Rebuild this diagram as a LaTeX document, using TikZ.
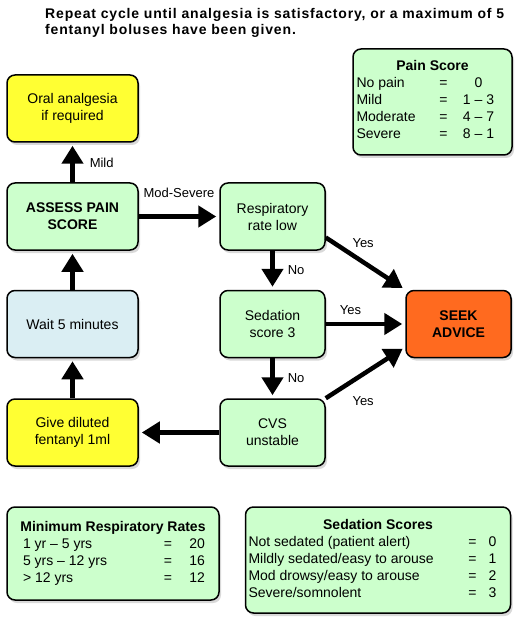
\documentclass[tikz,border=0pt]{standalone}
\usepackage{fontspec}
\setmainfont{Liberation Sans}
\usetikzlibrary{arrows.meta,positioning,calc,shadows}
\definecolor{mint}{HTML}{CCFFCC}
\definecolor{lemon}{HTML}{FFFF33}
\definecolor{sky}{HTML}{DAEEF3}
\definecolor{alarm}{HTML}{FF6A1F}
\newcommand{\entry}[4]{\makebox[#1][l]{#3}\makebox[10pt]{=}\makebox[#2]{#4}}
\tikzset{
  box/.style={draw=black,line width=1.5pt,rounded corners=8pt,fill=mint,align=center,inner sep=3pt,
    font=\fontsize{14}{17}\selectfont,drop shadow={shadow xshift=2pt,shadow yshift=-3pt,opacity=.3}},
  ybox/.style={box,fill=lemon},
  bbox/.style={box,fill=sky},
  obox/.style={box,fill=alarm,font=\fontsize{14}{17}\selectfont\bfseries},
  wide/.style={minimum width=131pt,minimum height=67pt},
  narrow/.style={minimum width=105pt,minimum height=67pt},
  ar/.style={-{Triangle[length=18pt,width=21pt]},line width=4.5pt,shorten >=3pt},
  lbl/.style={font=\fontsize{13}{15}\selectfont,inner sep=1pt},
}
\begin{document}
\begin{tikzpicture}[x=1pt,y=-1pt]
\useasboundingbox (0,0) rectangle (531,628);
\node[anchor=north west,align=left,inner sep=0pt,
  font=\fontsize{14}{16.5}\selectfont\bfseries\addfontfeature{LetterSpace=6}] (title) at (45,8)
  {Repeat cycle until analgesia is satisfactory, or a maximum of 5\\fentanyl boluses have been given.};

% left column
\node[ybox,wide] (oral) at (72.5,108.5) {Oral analgesia\\if required};
\node[box,wide,font=\fontsize{14}{17}\selectfont\bfseries] (assess) at (72.5,216.5) {ASSESS PAIN\\SCORE};
\node[bbox,wide] (wait) at (72.5,324) {Wait 5 minutes};
\node[ybox,wide] (give) at (72.5,432.5) {Give diluted\\fentanyl 1ml};

% checks
\node[box,narrow] (resp) at (272.5,216.5) {Respiratory\\rate low};
\node[box,narrow] (sed) at (272.5,324) {Sedation\\score 3};
\node[box,narrow] (cvs) at (272.5,432.5) {CVS\\unstable};
\node[obox,narrow] (seek) at (458.5,324) {SEEK\\ADVICE};

% tables
\node[box,minimum width=159pt,minimum height=106pt,text depth=6pt] (pain) at (432.5,102)
  {\textbf{Pain Score}\\
   \entry{82pt}{60pt}{No pain}{0}\\
   \entry{82pt}{60pt}{Mild}{1 -- 3}\\
   \entry{82pt}{60pt}{Moderate}{4 -- 7}\\
   \entry{82pt}{60pt}{Severe}{8 -- 1}};
\node[box,minimum width=212pt,minimum height=93pt] (rates) at (113,553.5)
  {\textbf{Minimum Respiratory Rates}\\
   \entry{142pt}{32pt}{\hspace{2pt}1 yr -- 5 yrs}{\hfill 20}\\
   \entry{142pt}{32pt}{\hspace{2pt}5 yrs -- 12 yrs}{\hfill 16}\\
   \entry{142pt}{32pt}{\hspace{2pt}> 12 yrs}{\hfill 12}};
\node[box,minimum width=264pt,minimum height=106pt,text depth=3pt] (scores) at (378,560)
  {\textbf{Sedation Scores}\\
   \entry{219pt}{30pt}{Not sedated (patient alert)}{0}\\
   \entry{219pt}{30pt}{Mildly sedated/easy to arouse}{1}\\
   \entry{219pt}{30pt}{Mod drowsy/easy to arouse}{2}\\
   \entry{219pt}{30pt}{Severe/somnolent}{3}};

% connectors
\draw[ar] (assess) -- node[lbl,right=14pt] {Mild} (oral);
\draw[ar] (assess) -- node[lbl,above=16pt] {Mod-Severe} (resp);
\draw[ar] (wait) -- (assess);
\draw[ar] (give) -- (wait);
\draw[ar] (cvs) -- (give);
\draw[ar] (resp) -- node[lbl,right=12pt] {No} (sed);
\draw[ar] (sed) -- node[lbl,right=12pt] {No} (cvs);
\draw[ar] ($(resp.east)+(0,21)$) -- node[lbl,pos=.47,above=11pt] {Yes} (seek.north west);
\draw[ar] (sed) -- node[lbl,pos=.31,above=6pt] {Yes} (seek);
\draw[ar] (cvs.north east) -- node[lbl,pos=.47,below=19pt] {Yes} ($(seek.west)+(0,23)$);
\end{tikzpicture}
\end{document}
